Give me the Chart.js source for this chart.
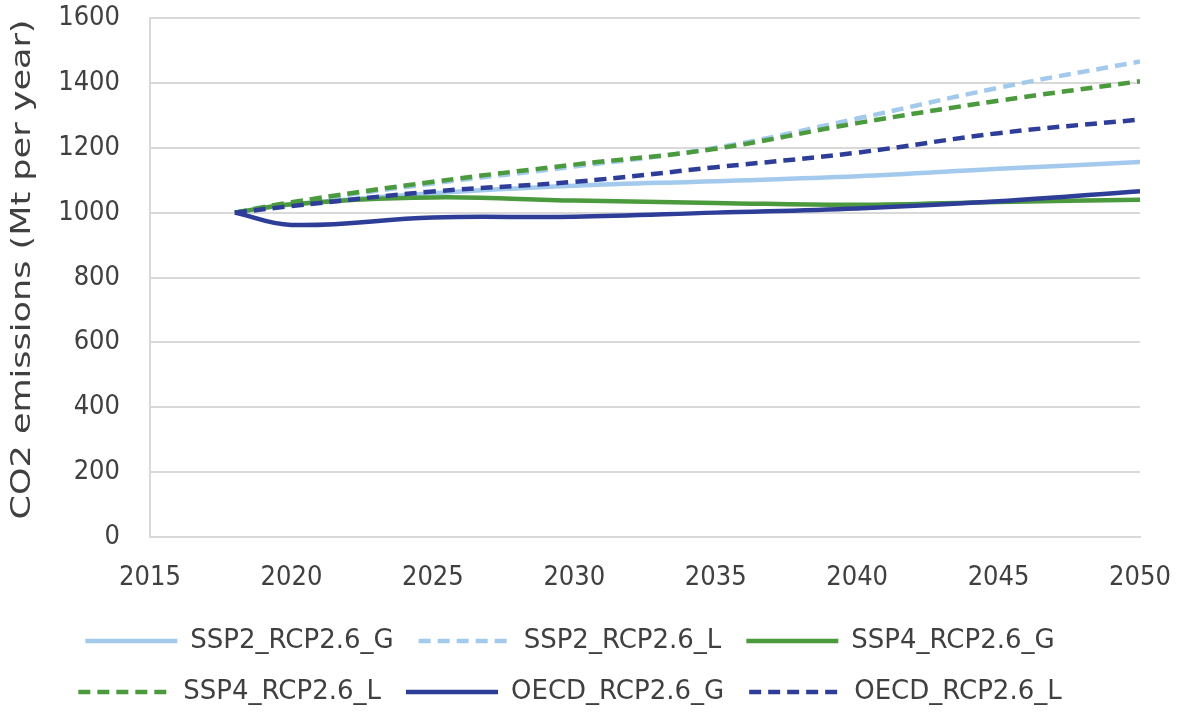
<!DOCTYPE html>
<html>
<head>
<meta charset="utf-8">
<script src="https://cdn.jsdelivr.net/npm/chart.js@4.4.0/dist/chart.umd.min.js"></script>
<style>
  html, body { margin: 0; padding: 0; background: #fff; }
  #wrap { width: 1181px; height: 718px; }
</style>
</head>
<body>
<div id="wrap"><canvas id="co2-chart"></canvas></div>
<script>
// years that carry a value
const years = [2018, 2020, 2025, 2030, 2035, 2040, 2045, 2050];

// CO2 emissions, Mt per year
const ssp2_g = [1000, 1025, 1060, 1083, 1097, 1112, 1135, 1156];
const ssp2_l = [1000, 1030, 1090, 1142, 1200, 1290, 1385, 1466];
const ssp4_g = [1000, 1026, 1047, 1037, 1030, 1024, 1033, 1040];
const ssp4_l = [1000, 1032, 1095, 1148, 1197, 1276, 1345, 1405];
const oecd_g = [1000, 962, 985, 987, 1000, 1013, 1035, 1066];
const oecd_l = [1000, 1020, 1065, 1095, 1140, 1185, 1245, 1287];

const names = ["SSP2_RCP2.6_G", "SSP2_RCP2.6_L", "SSP4_RCP2.6_G",
               "SSP4_RCP2.6_L", "OECD_RCP2.6_G", "OECD_RCP2.6_L"];
const series = [ssp2_g, ssp2_l, ssp4_g, ssp4_l, oecd_g, oecd_l];

const xTicks = [2015, 2020, 2025, 2030, 2035, 2040, 2045, 2050];
const yTicks = [0, 200, 400, 600, 800, 1000, 1200, 1400, 1600];
const yTitle = "CO2 emissions (Mt per year)";

const lightBlue = "#a3caed";
const green = "#4c9a3e";
const darkBlue = "#2e3e98";
const colors = [lightBlue, lightBlue, green, green, darkBlue, darkBlue];
const dashed = [false, true, false, true, false, true];

const NARROW = "'DejaVu Sans Condensed', 'DejaVu Sans', sans-serif";
const WIDE = "'DejaVu Sans', sans-serif";
const TEXT = "#404040";
const GRID = "#d9d9d9";

const datasets = series.map(function (vals, i) {
  return {
    label: names[i],
    data: vals.map(function (v, k) { return { x: years[k], y: v }; }),
    borderColor: colors[i],
    backgroundColor: colors[i],
    borderWidth: 4.5,
    borderDash: dashed[i] ? [12, 7] : [],
    pointRadius: 0,
    tension: 0.4,
    fill: false,
    order: series.length - i   // later series drawn on top, like the original
  };
});

// the axis title in the original is drawn long and thin, so stretch it along its baseline
const yTitlePlugin = {
  id: "yTitle",
  afterDraw: function (chart) {
    const ctx = chart.ctx;
    const area = chart.chartArea;
    ctx.save();
    ctx.font = "26px " + WIDE;
    ctx.fillStyle = TEXT;
    ctx.textAlign = "center";
    ctx.textBaseline = "middle";
    const w = ctx.measureText(yTitle).width;
    ctx.translate(23, (area.top + area.bottom) / 2 - 8);
    ctx.rotate(-Math.PI / 2);
    ctx.scale(500 / w, 1);
    ctx.fillText(yTitle, 0, 0);
    ctx.restore();
  }
};

new Chart(document.getElementById("co2-chart"), {
  type: "line",
  data: { datasets: datasets },
  plugins: [yTitlePlugin],
  options: {
    responsive: true,
    maintainAspectRatio: false,
    animation: false,
    layout: { padding: { left: 0, right: 41, top: 18, bottom: 3 } },
    scales: {
      x: {
        type: "linear",
        min: 2015,
        max: 2050,
        afterBuildTicks: function (axis) {
          axis.ticks = xTicks.map(function (v) { return { value: v }; });
        },
        afterFit: function (axis) {
          axis.height = 66;
          axis.paddingLeft = 0;
          axis.paddingRight = 0;
        },
        grid: { display: false, drawTicks: false },
        border: { display: true, color: GRID, width: 2 },
        ticks: {
          padding: 25,
          maxRotation: 0,
          color: TEXT,
          font: { family: NARROW, size: 27 },
          callback: function (v) { return String(v); }
        }
      },
      y: {
        min: 0,
        max: 1600,
        afterBuildTicks: function (axis) {
          axis.ticks = yTicks.map(function (v) { return { value: v }; });
        },
        afterFit: function (axis) {
          axis.width = 150;
          axis.paddingTop = 0;
          axis.paddingBottom = 0;
        },
        grid: { color: GRID, lineWidth: 2, drawTicks: false },
        border: { display: true, color: GRID, width: 2 },
        ticks: {
          padding: 30,
          color: TEXT,
          font: { family: NARROW, size: 27 },
          callback: function (v) { return String(v); }
        }
      }
    },
    plugins: {
      tooltip: { enabled: false },
      legend: {
        position: "bottom",
        labels: {
          usePointStyle: true,
          pointStyle: "line",
          pointStyleWidth: 92,
          padding: 25,
          color: TEXT,
          font: { family: WIDE, size: 26 },
          generateLabels: function (chart) {
            const items = Chart.defaults.plugins.legend.labels.generateLabels(chart);
            items.forEach(function (item) {
              item.lineDash = chart.data.datasets[item.datasetIndex].borderDash;
              item.lineWidth = 4.5;
            });
            return items;
          },
          sort: function (a, b) { return a.datasetIndex - b.datasetIndex; }
        }
      }
    }
  }
});
</script>
</body>
</html>
